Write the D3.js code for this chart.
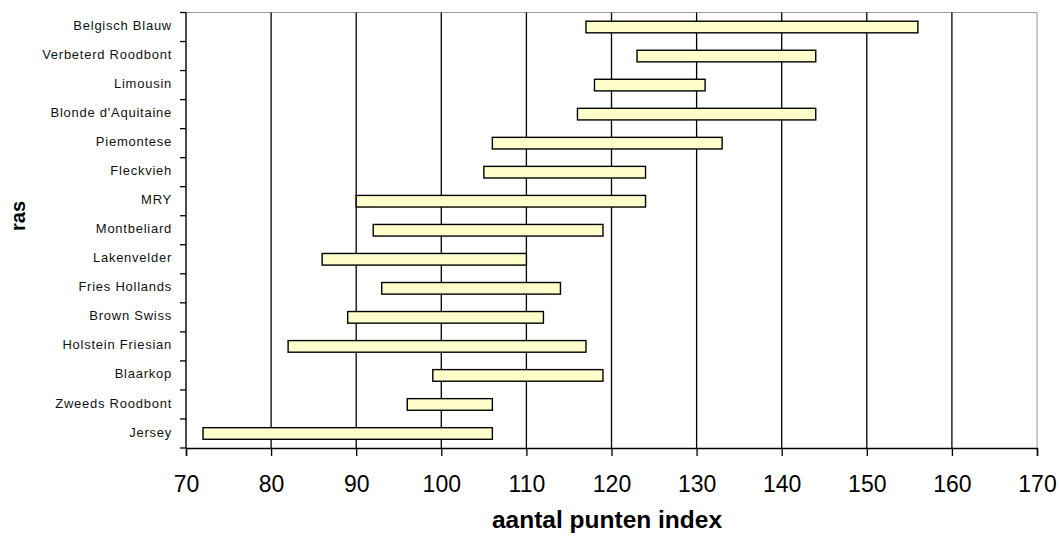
<!DOCTYPE html>
<html>
<head>
<meta charset="utf-8">
<script src="https://cdn.jsdelivr.net/npm/d3@7"></script>
<style>
  html, body { margin: 0; padding: 0; background: #fff; }
  svg { display: block; }
</style>
</head>
<body>
<svg id="chart" width="1059" height="538"></svg>
<script>
const categories = ["Belgisch Blauw", "Verbeterd Roodbont", "Limousin", "Blonde d'Aquitaine", "Piemontese", "Fleckvieh", "MRY", "Montbeliard", "Lakenvelder", "Fries Hollands", "Brown Swiss", "Holstein Friesian", "Blaarkop", "Zweeds Roodbont", "Jersey"];
const minValues = [117, 123, 118, 116, 106, 105, 90, 92, 86, 93, 89, 82, 99, 96, 72];
const maxValues = [156, 144, 131, 144, 133, 124, 124, 119, 110, 114, 112, 117, 119, 106, 106];
const xTicks = [70, 80, 90, 100, 110, 120, 130, 140, 150, 160, 170];

const svg = d3.select("#chart");
const mLeft = 186, mRight = 1037, mTop = 12.5, mBottom = 448;

const x = d3.scaleLinear().domain([70, 170]).range([mLeft, mRight]);
const y = d3.scaleBand().domain(categories).range([mTop, mBottom]).paddingInner(0.6).paddingOuter(0.3);
const yTick = d3.scaleBand().domain(categories).range([mTop, mBottom]);

// plot frame: top and right borders (gray)
svg.append("line").attr("x1", mLeft).attr("x2", mRight).attr("y1", mTop).attr("y2", mTop)
  .attr("stroke", "#999").attr("stroke-width", 1);
svg.append("line").attr("x1", mRight).attr("x2", mRight).attr("y1", mTop).attr("y2", mBottom)
  .attr("stroke", "#999").attr("stroke-width", 1);

// vertical gridlines
svg.append("g").selectAll("line").data(xTicks.filter(t => t > 70 && t < 170)).join("line")
  .attr("x1", d => x(d)).attr("x2", d => x(d))
  .attr("y1", mTop).attr("y2", mBottom)
  .attr("stroke", "#000").attr("stroke-width", 1.3);

// bars
svg.append("g").selectAll("rect").data(categories).join("rect")
  .attr("x", (d, i) => x(minValues[i]))
  .attr("y", d => y(d))
  .attr("width", (d, i) => x(maxValues[i]) - x(minValues[i]))
  .attr("height", y.bandwidth())
  .attr("fill", "#FFFFCC")
  .attr("stroke", "#000")
  .attr("stroke-width", 1.4);

// x axis
const xAxis = d3.axisBottom(x).tickValues(xTicks).tickSize(8).tickPadding(20).tickFormat(d3.format("d"));
const gx = svg.append("g").attr("transform", `translate(0,${mBottom})`).call(xAxis);
gx.select(".domain").attr("stroke", "#000").attr("stroke-width", 1.4);
gx.selectAll(".tick line").attr("stroke", "#000").attr("stroke-width", 1.3);
gx.selectAll(".tick text").attr("font-family", "Liberation Sans, Arial, sans-serif")
  .attr("font-size", 23).attr("fill", "#000");

// y axis: ticks at band boundaries
const boundaries = categories.map(c => yTick(c)).concat([mBottom]);
svg.append("line").attr("x1", mLeft).attr("x2", mLeft).attr("y1", mTop).attr("y2", mBottom)
  .attr("stroke", "#000").attr("stroke-width", 1.4);
svg.append("g").selectAll("line").data(boundaries).join("line")
  .attr("x1", mLeft - 6).attr("x2", mLeft)
  .attr("y1", d => d).attr("y2", d => d)
  .attr("stroke", "#000").attr("stroke-width", 1.3);

svg.append("g").selectAll("text").data(categories).join("text")
  .attr("x", 172)
  .attr("y", d => yTick(d) + yTick.bandwidth() / 2 - 1.5)
  .attr("dy", "0.35em")
  .attr("text-anchor", "end")
  .attr("font-family", "Liberation Sans, Arial, sans-serif")
  .attr("font-size", 13)
  .attr("letter-spacing", 0.75)
  .attr("fill", "#111")
  .text(d => d);

// axis titles
svg.append("text")
  .attr("x", 607).attr("y", 528)
  .attr("text-anchor", "middle")
  .attr("font-family", "Liberation Sans, Arial, sans-serif")
  .attr("font-weight", "bold").attr("font-size", 24.5)
  .text("aantal punten index");

svg.append("text")
  .attr("transform", "translate(25,216) rotate(-90)")
  .attr("text-anchor", "middle")
  .attr("font-family", "Liberation Sans, Arial, sans-serif")
  .attr("font-weight", "bold").attr("font-size", 20)
  .text("ras");
</script>
</body>
</html>
